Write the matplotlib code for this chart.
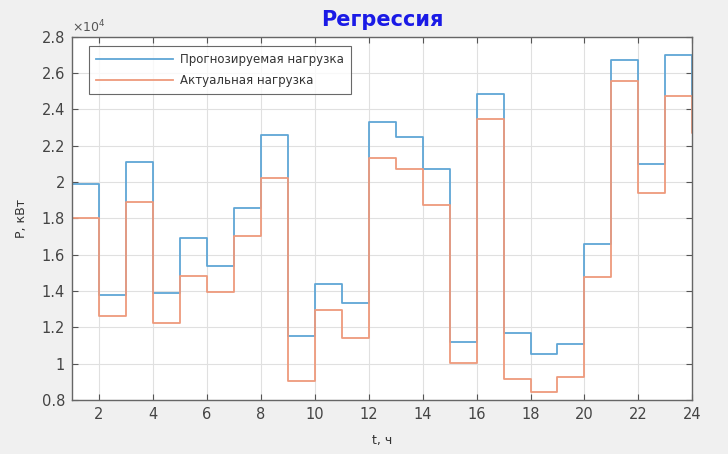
import matplotlib
matplotlib.use("Agg")
import matplotlib.pyplot as plt
from matplotlib.ticker import FuncFormatter, MultipleLocator

plt.rcParams['font.family'] = ['DejaVu Sans']

hours = list(range(1, 26))
predicted = [19900, 13800, 21100, 13900, 16900, 15350, 18550, 22600, 11500, 14400,
             13350, 23300, 22500, 20700, 11200, 24850, 11700, 10550, 11100, 16600,
             26700, 21000, 27000, 24700, 24700]
actual = [18000, 12600, 18900, 12250, 14850, 13950, 17050, 20200, 9050, 12950,
          11400, 21350, 20700, 18750, 10050, 23450, 9150, 8450, 9250, 14750,
          25550, 19400, 24750, 22700, 22700]

fig = plt.figure(figsize=(7.28, 4.54), dpi=100, facecolor='#f0f0f0')
ax = fig.add_axes([0.099, 0.119, 0.852, 0.80])
ax.set_facecolor('white')

ax.step(hours, predicted, where='post', color='#5fa6d6', lw=1.3,
        label='Прогнозируемая нагрузка')
ax.step(hours, actual, where='post', color='#ee9a7c', lw=1.3,
        label='Актуальная нагрузка')

ax.set_xlim(1, 24)
ax.set_ylim(8000, 28000)
ax.xaxis.set_major_locator(MultipleLocator(2))
ax.yaxis.set_major_locator(MultipleLocator(2000))
ax.yaxis.set_major_formatter(FuncFormatter(lambda v, p: f"{v/1e4:g}"))
ax.grid(True, color='#e0e0e0', lw=0.8)
ax.set_axisbelow(True)
ax.tick_params(direction='in', top=True, right=True, length=4,
               labelsize=10.5, colors='#555555', labelcolor='#444444', pad=5)
for s in ax.spines.values():
    s.set_color('#666666')
    s.set_linewidth(1.0)

ax.text(0.0, 1.005, r'$\times10^4$', transform=ax.transAxes, fontsize=9,
        color='#555555', ha='left', va='bottom')
ax.set_title('Регрессия', color='#1a1ae6', fontsize=15, fontweight='bold', pad=8)
ax.set_ylabel('P, кВт', fontsize=9, color='#333333', labelpad=10)
ax.set_xlabel('t, ч', fontsize=9, color='#333333', labelpad=9)

leg = ax.legend(loc='upper left', bbox_to_anchor=(0.022, 0.985), fontsize=8.5,
                frameon=True, fancybox=False, edgecolor='#444444',
                handlelength=6.5, borderpad=0.6, labelspacing=0.7,
                handletextpad=0.6, borderaxespad=0.3)
leg.get_frame().set_linewidth(0.8)
for t in leg.get_texts():
    t.set_color('#333333')

fig.savefig('out.png', dpi=100, facecolor=fig.get_facecolor())
